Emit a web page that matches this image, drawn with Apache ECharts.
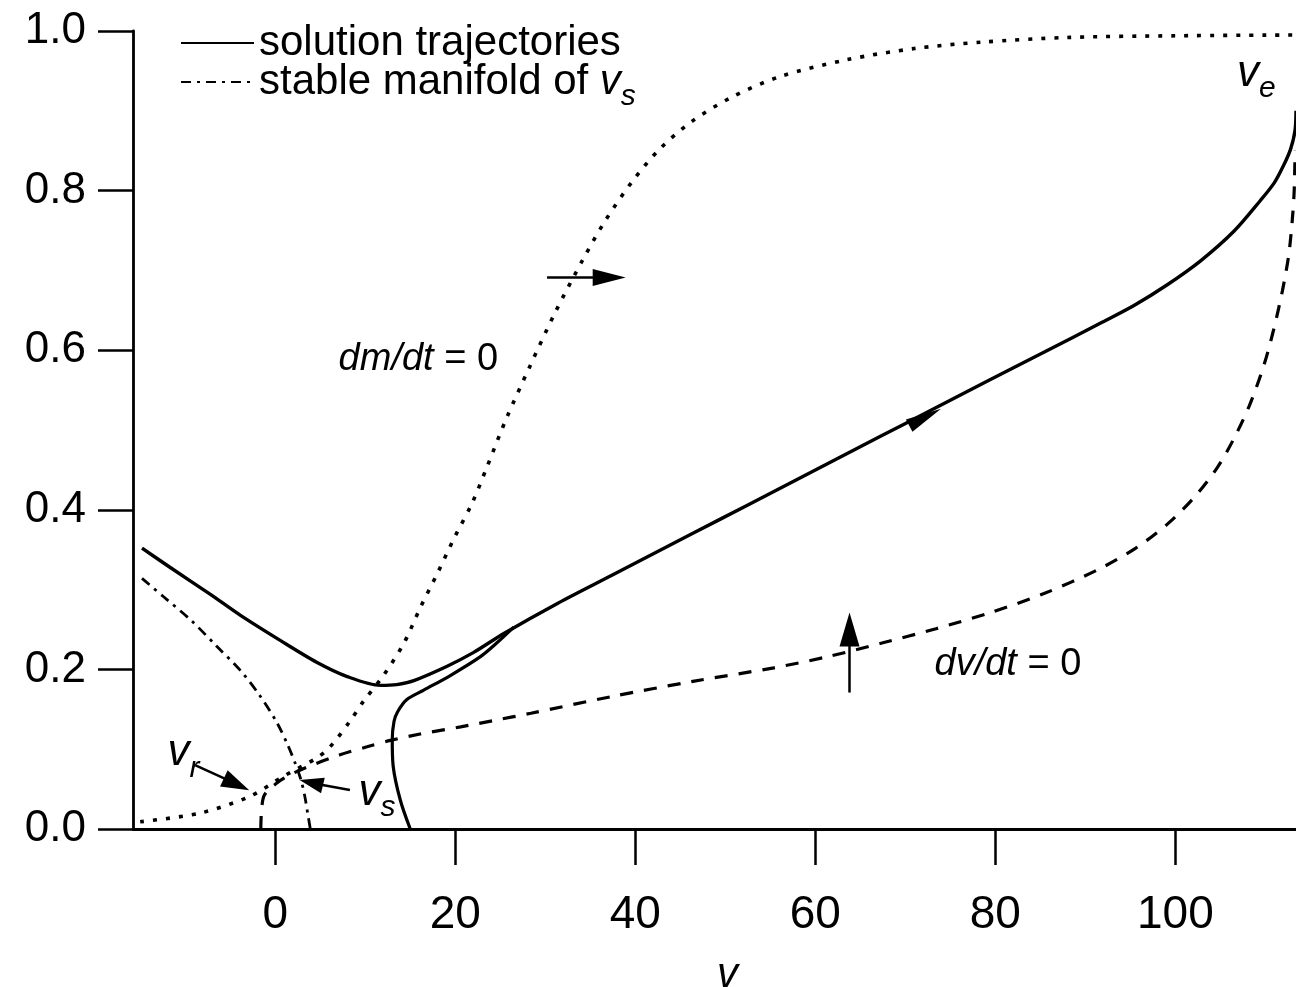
<!DOCTYPE html>
<html>
<head>
<meta charset="utf-8">
<title>Phase plane</title>
<script src="https://cdn.jsdelivr.net/npm/echarts/dist/echarts.min.js"></script>
<style>
  html, body { margin: 0; padding: 0; background: #fff; }
  #chart { width: 1296px; height: 987px; }
</style>
</head>
<body>
<div id="chart"></div>
<script>
// ---- data (v, m) ----
const xTicks = [0, 20, 40, 60, 80, 100];
const yTicks = [0, 0.2, 0.4, 0.6, 0.8, 1.0];

// trajectory starting at upper left, dipping and running up to v_e
const trajUpper = [
  [-14.8, 0.352], [-11.7, 0.328], [-7.2, 0.294], [-3.9, 0.268], [0.6, 0.236],
  [4.6, 0.209], [8.0, 0.191], [11.7, 0.180], [13.5, 0.181], [15.4, 0.186],
  [19.1, 0.204], [22.0, 0.221], [25.4, 0.245], [31.4, 0.283], [37.4, 0.318],
  [43.4, 0.353], [49.4, 0.388], [55.4, 0.423], [61.4, 0.458], [67.4, 0.493],
  [72.2, 0.521], [79.4, 0.563], [85.5, 0.598], [91.7, 0.634], [95.4, 0.656],
  [99.1, 0.682], [102.8, 0.712], [106.5, 0.749], [109.4, 0.787], [111.0, 0.810],
  [112.0, 0.831], [112.8, 0.852], [113.3, 0.876], [113.4, 0.900]
];
// trajectory rising from the v axis near v = 15
const trajLower = [
  [15.0, 0.000], [13.9, 0.036], [13.1, 0.079], [13.0, 0.112], [13.2, 0.135],
  [13.6, 0.147], [14.6, 0.162], [16.5, 0.174], [19.4, 0.192], [22.8, 0.216],
  [24.6, 0.233], [26.5, 0.253]
];
// stable manifold of v_s (both branches meet at v_s)
const manifold = [
  [-14.8, 0.314], [-12.4, 0.291], [-9.4, 0.262], [-6.5, 0.229], [-3.9, 0.199],
  [-1.7, 0.167], [0.2, 0.133], [1.4, 0.105], [2.3, 0.080], [2.9, 0.060],
  [3.3, 0.040], [3.6, 0.020], [3.9, 0.000]
];
// dm/dt = 0 nullcline
const mNullcline = [
  [-15.0, 0.009], [-8.3, 0.020], [-2.8, 0.041], [0.9, 0.066], [4.6, 0.089],
  [6.1, 0.103], [8.3, 0.135], [9.8, 0.160], [12.0, 0.192], [14.3, 0.233],
  [16.1, 0.277], [18.0, 0.320], [19.9, 0.365], [21.9, 0.409], [23.5, 0.453],
  [25.7, 0.515], [28.3, 0.580], [31.0, 0.645], [34.2, 0.714], [36.7, 0.763],
  [39.7, 0.812], [42.7, 0.852], [46.2, 0.886], [50.7, 0.917], [56.1, 0.943],
  [63.5, 0.964], [71.0, 0.978], [78.4, 0.986], [88.3, 0.992], [100.0, 0.994],
  [113.4, 0.995]
];
// dv/dt = 0 nullcline
const vNullcline = [
  [-1.6, 0.000], [-1.3, 0.040], [0.6, 0.061], [2.8, 0.074], [7.2, 0.093],
  [10.2, 0.103], [12.8, 0.111], [16.1, 0.119], [20.6, 0.128], [24.3, 0.136],
  [28.4, 0.145], [37.4, 0.166], [46.4, 0.185], [55.4, 0.202], [61.4, 0.216],
  [67.4, 0.233], [73.4, 0.251], [79.4, 0.271], [85.4, 0.295], [91.4, 0.325],
  [95.6, 0.352], [99.2, 0.383], [102.2, 0.417], [104.6, 0.452], [106.4, 0.487],
  [108.2, 0.530], [109.8, 0.580], [110.9, 0.625], [111.9, 0.675], [112.6, 0.720],
  [113.0, 0.765], [113.2, 0.800], [113.3, 0.850]
];

// direction arrows: shaft ends and head centres (v, m), head angle in degrees
const arrowShafts = [
  [[30.2, 0.691], [36.0, 0.691]],
  [[63.8, 0.171], [63.8, 0.245]],
  [[-8.9, 0.080], [-5.0, 0.060]],
  [[8.3, 0.049], [4.8, 0.056]]
];
const arrowHeads = [
  { at: [72.2, 0.516], angle: -62.3, size: [14, 36] },
  { at: [37.1, 0.691], angle: -90, size: [17, 33] },
  { at: [63.8, 0.250], angle: 0, size: [20, 34] },
  { at: [-4.3, 0.056], angle: -115, size: [18, 28] },
  { at: [4.0, 0.058], angle: 76.5, size: [16, 24] }
];

// fixed point names and nullcline names
const pointNames = [
  { at: [-10.2, 0.095], sub: 'r' },
  { at: [11.3, 0.046], sub: 's' },
  { at: [109.0, 0.946], sub: 'e' }
];
const curveNames = [
  { at: [15.9, 0.588], italic: 'dm/dt', rest: ' = 0' },
  { at: [81.4, 0.206], italic: 'dv/dt', rest: ' = 0' }
];

// ---- chart ----
const FONT = '"Liberation Sans", Arial, Helvetica, sans-serif';
const INK = '#000';

const chart = echarts.init(document.getElementById('chart'), null, { renderer: 'canvas' });

const lineBase = {
  type: 'line',
  symbol: 'none',
  smooth: 0.3,
  silent: true,
  itemStyle: { color: INK },
  z: 3
};

const option = {
  backgroundColor: '#fff',
  animation: false,
  textStyle: { fontFamily: FONT, color: INK },
  grid: {
    left: 133, right: 0, top: 31, bottom: 158,
    containLabel: false,
    outerBoundsMode: 'none'
  },
  legend: {
    orient: 'vertical',
    left: 175,
    top: 17,
    itemWidth: 73,
    itemHeight: 14,
    itemGap: -12,
    selectedMode: false,
    itemStyle: { opacity: 0 },
    data: ['solution trajectories', 'stable manifold of v_s'],
    textStyle: {
      fontFamily: FONT, fontSize: 42, color: INK, lineHeight: 36,
      rich: {
        n: { fontFamily: FONT, fontSize: 42, color: INK, lineHeight: 60 },
        i: { fontFamily: FONT, fontSize: 42, color: INK, fontStyle: 'italic', lineHeight: 60 },
        s: { fontFamily: FONT, fontSize: 30, color: INK, fontStyle: 'italic', lineHeight: 40, verticalAlign: 'bottom' }
      }
    },
    formatter: function (name) {
      if (name === 'stable manifold of v_s') return '{n|stable manifold of }{i|v}{s|s}';
      return name;
    }
  },
  xAxis: {
    type: 'value',
    min: -15.8,
    max: 113.4,
    name: 'v',
    nameLocation: 'middle',
    nameGap: 125,
    nameTextStyle: { fontFamily: FONT, fontSize: 42, fontStyle: 'italic', color: INK, padding: [0, 0, 0, 26] },
    axisLine: { show: true, onZero: false, lineStyle: { color: INK, width: 2.8 } },
    axisTick: { show: true, inside: false, length: 36, customValues: xTicks, lineStyle: { color: INK, width: 2.5 } },
    axisLabel: { show: true, customValues: xTicks, margin: 63, fontSize: 46, color: INK, fontFamily: FONT },
    splitLine: { show: false }
  },
  yAxis: {
    type: 'value',
    min: 0,
    max: 1,
    interval: 0.2,
    axisLine: { show: true, onZero: false, lineStyle: { color: INK, width: 2.8 } },
    axisTick: { show: true, inside: false, length: 35, lineStyle: { color: INK, width: 2.5 } },
    axisLabel: {
      show: true, margin: 47, fontSize: 44, color: INK, fontFamily: FONT,
      formatter: function (v) { return v.toFixed(1); }
    },
    splitLine: { show: false }
  },
  series: [
    Object.assign({}, lineBase, {
      name: 'solution trajectories',
      data: trajUpper,
      lineStyle: { color: INK, width: 3.4 }
    }),
    Object.assign({}, lineBase, {
      name: 'solution trajectories',
      data: trajLower,
      lineStyle: { color: INK, width: 3.2 }
    }),
    Object.assign({}, lineBase, {
      name: 'stable manifold of v_s',
      data: manifold,
      lineStyle: { color: INK, width: 2.8, type: [10, 6, 3, 6] }
    }),
    Object.assign({}, lineBase, {
      name: 'dm/dt = 0',
      data: mNullcline,
      lineStyle: { color: INK, width: 3.6, type: [4, 9] }
    }),
    Object.assign({}, lineBase, {
      name: 'dv/dt = 0',
      data: vNullcline,
      lineStyle: { color: INK, width: 3.2, type: [13, 11] }
    }),
    {
      name: 'arrows',
      type: 'scatter',
      silent: true,
      z: 5,
      data: arrowHeads.map(function (a) {
        return { value: a.at, symbolRotate: a.angle, symbolSize: a.size };
      }),
      symbol: 'triangle',
      itemStyle: { color: INK, opacity: 1 },
      markLine: {
        silent: true,
        symbol: ['none', 'none'],
        label: { show: false },
        lineStyle: { color: INK, width: 2.5, type: 'solid', opacity: 1 },
        data: arrowShafts.map(function (s) {
          return [{ coord: s[0] }, { coord: s[1] }];
        })
      }
    },
    {
      name: 'point names',
      type: 'scatter',
      silent: true,
      z: 6,
      symbolSize: 0,
      itemStyle: { color: INK, opacity: 1 },
      data: pointNames.map(function (p) {
        return { value: p.at, sub: p.sub };
      }),
      label: {
        show: true,
        position: 'inside',
        color: INK,
        formatter: function (p) { return '{i|v}{s|' + p.data.sub + '}'; },
        rich: {
          i: { fontFamily: FONT, fontSize: 44, fontStyle: 'italic', color: INK, lineHeight: 60 },
          s: { fontFamily: FONT, fontSize: 30, fontStyle: 'italic', color: INK, lineHeight: 28, verticalAlign: 'bottom' }
        }
      }
    },
    {
      name: 'curve names',
      type: 'scatter',
      silent: true,
      z: 6,
      symbolSize: 0,
      itemStyle: { color: INK, opacity: 1 },
      data: curveNames.map(function (c) {
        return { value: c.at, it: c.italic, rest: c.rest };
      }),
      label: {
        show: true,
        position: 'inside',
        color: INK,
        formatter: function (p) { return '{i|' + p.data.it + '}{u|' + p.data.rest + '}'; },
        rich: {
          i: { fontFamily: FONT, fontSize: 38, fontStyle: 'italic', color: INK },
          u: { fontFamily: FONT, fontSize: 38, color: INK }
        }
      }
    }
  ]
};

chart.setOption(option);
</script>
</body>
</html>
